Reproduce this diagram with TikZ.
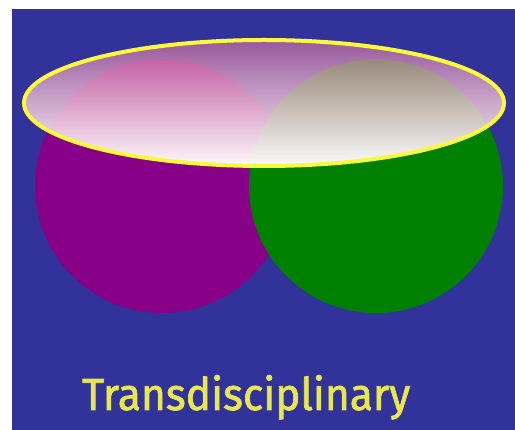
\documentclass[tikz,border=0pt]{standalone}
\usepackage{fontspec}
\setmainfont{Fira Sans}
\newfontfamily\labelfont[FakeBold=1.6]{Fira Sans}
\usetikzlibrary{fadings}
\definecolor{bgblue}{RGB}{50,50,155}
\definecolor{cpurple}{RGB}{136,0,136}
\definecolor{cgreen}{RGB}{0,128,0}
\definecolor{cyellow}{RGB}{250,250,60}
\definecolor{ctext}{RGB}{232,232,78}
\definecolor{cmauve}{RGB}{205,75,135}
\tikzfading[name=lidfade, top color=transparent!90, middle color=transparent!40, bottom color=transparent!0]
\tikzset{
  disc/.style={circle, inner sep=0pt, minimum size=254pt},
  lidline/.style={draw=cyellow, line width=4pt},
}
\begin{document}
\begin{tikzpicture}[x=1pt,y=-1pt]
\useasboundingbox (0,0) rectangle (515,430);
\fill[white] (0,0) rectangle (515,430);
\fill[bgblue] (12,9) rectangle (515,430);
\node[disc, fill=cpurple] (purple) at (162,186) {};
\node[disc, fill=cgreen] (green) at (376,186) {};
\begin{scope}
  \clip (264,103) ellipse [x radius=240, y radius=63];
  \fill[cmauve, opacity=0.58] (20,36) rectangle (508,170);
  \fill[white, path fading=lidfade] (20,36) rectangle (508,170);
\end{scope}
\draw[lidline] (264,103) ellipse [x radius=240, y radius=63];
\node[anchor=base west, inner sep=0pt, text=ctext] (label) at (82,410)
  {\resizebox{328pt}{35pt}{\labelfont Transdisciplinary}};
\end{tikzpicture}
\end{document}
